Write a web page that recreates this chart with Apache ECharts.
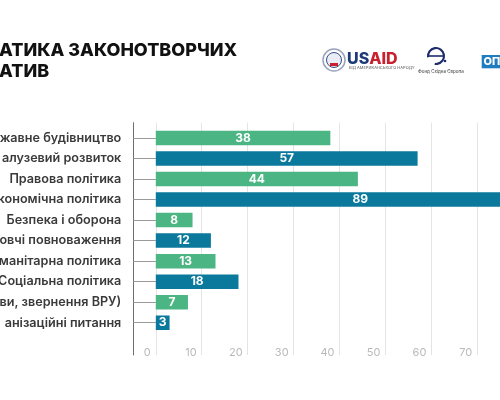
<!DOCTYPE html>
<html>
<head>
<meta charset="utf-8">
<script src="https://cdn.jsdelivr.net/npm/echarts@6/dist/echarts.min.js"></script>
<style>
  html, body { margin: 0; padding: 0; background: #fff; }
  #chart { width: 500px; height: 400px; }
</style>
</head>
<body>
<div id="chart"></div>
<script>
// data (labels are cut at the left edge, as in the reference)
const categories = [
    'жавне будівництво',
    'алузевий розвиток',
    'Правова політика',
    'кономічна політика',
    'Безпека і оборона',
    'овчі повноваження',
    'манітарна політика',
    'Соціальна політика',
    'ви, звернення ВРУ)',
    'анізаційні питання'
];
const values = [38, 57, 44, 89, 8, 12, 13, 18, 7, 3];
const titleLines = ['АТИКА ЗАКОНОТВОРЧИХ', 'АТИВ'];
const xMin = 0;
const xMax = 90;
const xStep = 10;

const green = '#4bb683';
const blue = '#0b799b';
const font = 'Inter, "Noto Sans", sans-serif';

const plotLeft = 155.8;
const plotWidth = 4.593 * xMax;

// the reference font is wider than any installed one: size the category
// labels so that "Правова політика" is as wide as in the picture (~112px)
function fitSize(text, weight, target, base) {
    const ctx = document.createElement('canvas').getContext('2d');
    ctx.font = weight + ' ' + base + 'px ' + font;
    return +(base * target / ctx.measureText(text).width).toFixed(2);
}
const catFontSize = fitSize(categories[2], 600, 112, 13);

const chart = echarts.init(document.getElementById('chart'));

chart.setOption({
    backgroundColor: '#fff',
    animation: false,
    title: {
        text: titleLines.join('\n'),
        left: -1,
        top: 40,
        padding: 0,
        textStyle: {
            fontFamily: font,
            fontSize: 18,
            fontWeight: 800,
            color: '#111',
            lineHeight: 21
        }
    },
    grid: [
        // bars
        { left: plotLeft, width: plotWidth, top: 127.7, height: 205.3, outerBoundsMode: 'none', containLabel: false },
        // gridlines, value labels and axis line
        { left: plotLeft, width: plotWidth, top: 122.7, height: 232.3, outerBoundsMode: 'none', containLabel: false }
    ],
    xAxis: [
        { type: 'value', gridIndex: 0, min: xMin, max: xMax, interval: xStep, show: false },
        {
            type: 'value', gridIndex: 1, min: xMin, max: xMax, interval: xStep,
            axisLine: { show: false },
            axisTick: { show: false },
            splitLine: { lineStyle: { color: '#e4e4e4', width: 1 } },
            axisLabel: {
                inside: true,
                margin: -3,
                align: 'right',
                padding: [0, 5, 0, 0],
                color: '#b9b9b9',
                fontFamily: font,
                fontSize: 11,
                showMinLabel: true,
                showMaxLabel: true
            }
        }
    ],
    yAxis: [
        {
            type: 'category', gridIndex: 0, data: categories, inverse: true,
            offset: 22.5,
            axisLine: { show: false, onZero: false },
            axisTick: {
                show: true, alignWithLabel: true, inside: true, length: 22.5,
                lineStyle: { color: '#9a9a9a' }
            },
            axisLabel: {
                margin: 12,
                color: '#3a3a3a',
                fontFamily: font,
                fontWeight: 600,
                fontSize: catFontSize
            }
        },
        {
            type: 'value', gridIndex: 1, min: 0, max: 1,
            offset: 22.5,
            axisLine: { show: true, onZero: false, lineStyle: { color: '#6e6e6e', width: 1 } },
            axisTick: { show: false },
            axisLabel: { show: false },
            splitLine: { show: false }
        }
    ],
    series: [{
        type: 'bar',
        xAxisIndex: 0,
        yAxisIndex: 0,
        data: values,
        barWidth: 14.5,
        itemStyle: {
            color: p => (p.dataIndex % 2 === 0 ? green : blue)
        },
        label: {
            show: true,
            position: 'inside',
            color: '#fff',
            fontFamily: font,
            fontWeight: 700,
            fontSize: 12
        }
    }],
    graphic: [
        // USAID seal + word mark
        { type: 'circle', shape: { cx: 334, cy: 60, r: 11 }, style: { fill: '#fff', stroke: '#9aa3bd', lineWidth: 1.5 } },
        { type: 'circle', shape: { cx: 334, cy: 60, r: 7.5 }, style: { fill: '#e9ecf4', stroke: '#3b4a8a', lineWidth: 1 } },
        { type: 'rect', shape: { x: 330, y: 63, width: 8, height: 3 }, style: { fill: '#c8202f' } },
        {
            type: 'text', left: 347, top: 51,
            style: {
                text: '{u|US}{a|AID}',
                rich: {
                    u: { fontFamily: font, fontWeight: 800, fontSize: 16, fill: '#1d3a78' },
                    a: { fontFamily: font, fontWeight: 800, fontSize: 16, fill: '#c8202f' }
                }
            }
        },
        {
            type: 'text', left: 349, top: 65.5,
            style: { text: 'ВІД АМЕРИКАНСЬКОГО НАРОДУ', fontFamily: font, fontSize: 4, fill: '#555' }
        },
        // East Europe Foundation mark
        {
            type: 'arc', shape: { cx: 436, cy: 56, r: 8, startAngle: Math.PI * 0.95, endAngle: Math.PI * 2.55 },
            style: { stroke: '#1d2d6b', lineWidth: 2.2, fill: 'none' }
        },
        { type: 'line', shape: { x1: 429, y1: 56, x2: 443, y2: 56 }, style: { stroke: '#1d2d6b', lineWidth: 1.6 } },
        { type: 'circle', shape: { cx: 445, cy: 61, r: 1.3 }, style: { fill: '#1d2d6b' } },
        {
            type: 'text', left: 418, top: 69.5,
            style: { text: 'Фонд Східна Європа', fontFamily: font, fontSize: 4.5, fill: '#333' }
        },
        // cut-off blue badge at the right edge
        { type: 'rect', shape: { x: 481.7, y: 55, width: 20, height: 13.3 }, style: { fill: '#1f7dbf' } },
        {
            type: 'text', left: 483.5, top: 56,
            style: { text: 'ОП', fontFamily: font, fontWeight: 800, fontSize: 11, fill: '#fff' }
        }
    ]
});

window.addEventListener('resize', () => chart.resize());
</script>
</body>
</html>
